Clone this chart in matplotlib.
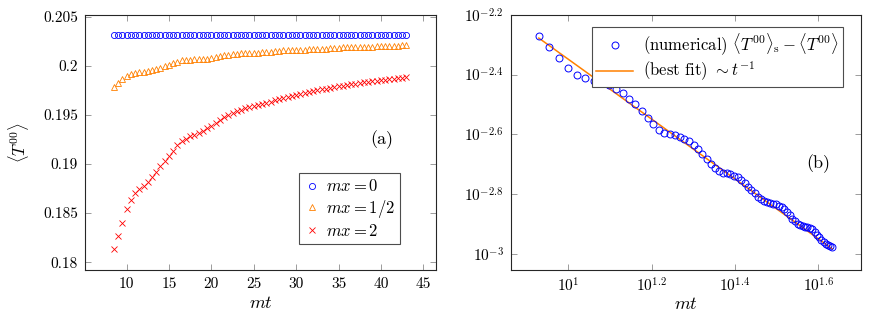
import numpy as np
import matplotlib
matplotlib.use("Agg")
import matplotlib.pyplot as plt
from matplotlib.ticker import FixedLocator, FuncFormatter, NullLocator

plt.rcParams['font.family'] = 'serif'
plt.rcParams['font.serif'] = ['cmr10', 'DejaVu Serif']
plt.rcParams['mathtext.fontset'] = 'cm'
plt.rcParams['axes.formatter.use_mathtext'] = True
plt.rcParams['axes.unicode_minus'] = False

# time grid (m t), shared by both panels
mt = np.arange(8.5, 43.01, 0.5)

# panel (a): <T^00> for three values of m x
t00_mx0 = np.full(len(mt), 0.20313)
t00_mx_half = [
    0.19779, 0.19822, 0.19862, 0.19895, 0.19916, 0.19925, 0.19933, 0.19939,
    0.19946, 0.19955, 0.19968, 0.19982, 0.19997, 0.20012, 0.20028, 0.20042,
    0.20054, 0.20059, 0.20061, 0.20064, 0.20067, 0.20070, 0.20074, 0.20081,
    0.20088, 0.20096, 0.20105, 0.20112, 0.20119, 0.20124, 0.20126, 0.20127,
    0.20128, 0.20130, 0.20132, 0.20136, 0.20141, 0.20145, 0.20149, 0.20153,
    0.20157, 0.20160, 0.20163, 0.20164, 0.20165, 0.20165, 0.20166, 0.20168,
    0.20170, 0.20172, 0.20175, 0.20178, 0.20181, 0.20184, 0.20187, 0.20188,
    0.20189, 0.20189, 0.20190, 0.20191, 0.20192, 0.20194, 0.20197, 0.20199,
    0.20201, 0.20203, 0.20205, 0.20206, 0.20207, 0.20208,
]
t00_mx2 = [
    0.18136, 0.18268, 0.18404, 0.18541, 0.18636, 0.18704, 0.18745, 0.18779,
    0.18819, 0.18867, 0.18918, 0.18976, 0.19027, 0.19085, 0.19136, 0.19190,
    0.19231, 0.19258, 0.19282, 0.19299, 0.19316, 0.19340, 0.19365, 0.19391,
    0.19418, 0.19446, 0.19474, 0.19497, 0.19521, 0.19539, 0.19552, 0.19566,
    0.19581, 0.19593, 0.19603, 0.19612, 0.19623, 0.19636, 0.19650, 0.19662,
    0.19673, 0.19685, 0.19695, 0.19705, 0.19717, 0.19727, 0.19736, 0.19744,
    0.19752, 0.19760, 0.19768, 0.19776, 0.19784, 0.19792, 0.19799, 0.19805,
    0.19811, 0.19817, 0.19823, 0.19830, 0.19835, 0.19841, 0.19846, 0.19851,
    0.19857, 0.19862, 0.19868, 0.19874, 0.19880, 0.19888,
]

# panel (b): <T^00>_s - <T^00> and the 1/t fit
diff_numerical = [
    0.005342, 0.004909, 0.004512, 0.004178, 0.003972, 0.003876, 0.003802, 0.003744,
    0.003673, 0.003576, 0.003454, 0.003311, 0.003162, 0.003008, 0.002851, 0.002712,
    0.002590, 0.002541, 0.002522, 0.002493, 0.002464, 0.002431, 0.002386, 0.002321,
    0.002251, 0.002167, 0.002084, 0.002006, 0.001940, 0.001891, 0.001872, 0.001862,
    0.001848, 0.001828, 0.001805, 0.001765, 0.001723, 0.001679, 0.001637, 0.001596,
    0.001556, 0.001525, 0.001502, 0.001490, 0.001483, 0.001476, 0.001466, 0.001453,
    0.001434, 0.001411, 0.001380, 0.001349, 0.001315, 0.001288, 0.001264, 0.001249,
    0.001242, 0.001235, 0.001229, 0.001221, 0.001209, 0.001190, 0.001163, 0.001139,
    0.001117, 0.001097, 0.001084, 0.001073, 0.001063, 0.001055,
]
fit_coef = 0.0448

BLUE = '#0000ff'
ORANGE = '#ff8000'
RED = '#ff0000'
FS = 11          # tick labels
FS_TXT = 12      # legends, axis labels, panel tags


def style_axes(ax):
    ax.tick_params(which='both', direction='in', top=True, right=True,
                   length=4, width=0.6, color='0.55', labelsize=FS, pad=5)
    for s in ax.spines.values():
        s.set_linewidth(0.8)
        s.set_color('0.15')


fig = plt.figure(figsize=(8.72, 3.23), dpi=100)
ax1 = fig.add_axes([0.0975, 0.1641, 0.4025, 0.7904])
ax2 = fig.add_axes([0.5857, 0.1641, 0.4014, 0.7904])

# ---- panel (a)
ax1.plot(mt, t00_mx0, ls='none', marker='o', ms=4.4, mfc='none', mec=BLUE,
         mew=0.6, label=r'$mx = 0$')
ax1.plot(mt, t00_mx_half, ls='none', marker='^', ms=4.4, mfc='none', mec=ORANGE,
         mew=0.6, label=r'$mx = 1/2$')
ax1.plot(mt, t00_mx2, ls='none', marker='x', ms=4.0, mec=RED,
         mew=0.6, label=r'$mx = 2$')
ax1.set_xlim(5.1, 46.5)
ax1.set_ylim(0.17921, 0.2052)
ax1.xaxis.set_major_locator(FixedLocator([10, 15, 20, 25, 30, 35, 40, 45]))
ax1.yaxis.set_major_locator(FixedLocator([0.18, 0.185, 0.19, 0.195, 0.2, 0.205]))
ax1.yaxis.set_major_formatter(FuncFormatter(lambda v, p: f'{v:g}'))
ax1.xaxis.set_major_formatter(FuncFormatter(lambda v, p: f'{v:g}'))
style_axes(ax1)
ax1.set_xlabel(r'$mt$', fontsize=FS_TXT + 1, labelpad=3)
ax1.set_ylabel(r'$\langle T^{00}\rangle$', fontsize=FS_TXT, labelpad=9)
ax1.text(0.845, 0.509, '(a)', transform=ax1.transAxes, fontsize=FS_TXT + 1,
         ha='center', va='center')
leg1 = ax1.legend(loc='lower right', bbox_to_anchor=(0.8974, 0.1018),
                  fontsize=FS_TXT, frameon=True, fancybox=False, framealpha=1,
                  edgecolor='0.3', handlelength=0.9, handletextpad=0.4,
                  borderpad=0.3, labelspacing=0.2, borderaxespad=0)
leg1.get_frame().set_linewidth(0.8)

# ---- panel (b)
ax2.plot(mt, diff_numerical, ls='none', marker='o', ms=5.0, mfc='none', mec=BLUE,
         mew=0.7, label=r'(numerical) $\langle T^{00}\rangle_{\mathrm{s}} - \langle T^{00}\rangle$',
         zorder=3)
ax2.plot(mt, fit_coef / mt, color=ORANGE, lw=1.1,
         label=r'(best fit) $\sim t^{-1}$', zorder=2)
ax2.set_xscale('log')
ax2.set_yscale('log')
ax2.set_xlim(10 ** 0.862, 10 ** 1.702)
ax2.set_ylim(10 ** -3.053, 10 ** -2.2)
ax2.xaxis.set_major_locator(FixedLocator(10 ** np.array([1.0, 1.2, 1.4, 1.6])))
ax2.yaxis.set_major_locator(FixedLocator(10 ** np.array([-3.0, -2.8, -2.6, -2.4, -2.2])))
ax2.xaxis.set_minor_locator(NullLocator())
ax2.yaxis.set_minor_locator(NullLocator())
log_fmt = FuncFormatter(lambda v, p: r'$10^{%g}$' % round(np.log10(v), 2))
ax2.xaxis.set_major_formatter(log_fmt)
ax2.yaxis.set_major_formatter(log_fmt)
style_axes(ax2)
ax2.set_xlabel(r'$mt$', fontsize=FS_TXT + 1, labelpad=1)
ax2.text(0.879, 0.415, '(b)', transform=ax2.transAxes, fontsize=FS_TXT + 1,
         ha='center', va='center')
leg2 = ax2.legend(loc='upper right', bbox_to_anchor=(0.9486, 0.9506),
                  fontsize=FS_TXT, frameon=True, fancybox=False, framealpha=1,
                  edgecolor='0.3', handlelength=2.2, handletextpad=0.6,
                  borderpad=0.25, labelspacing=0.15, borderaxespad=0)
leg2.get_frame().set_linewidth(0.8)

fig.savefig('out.png', dpi=100)
